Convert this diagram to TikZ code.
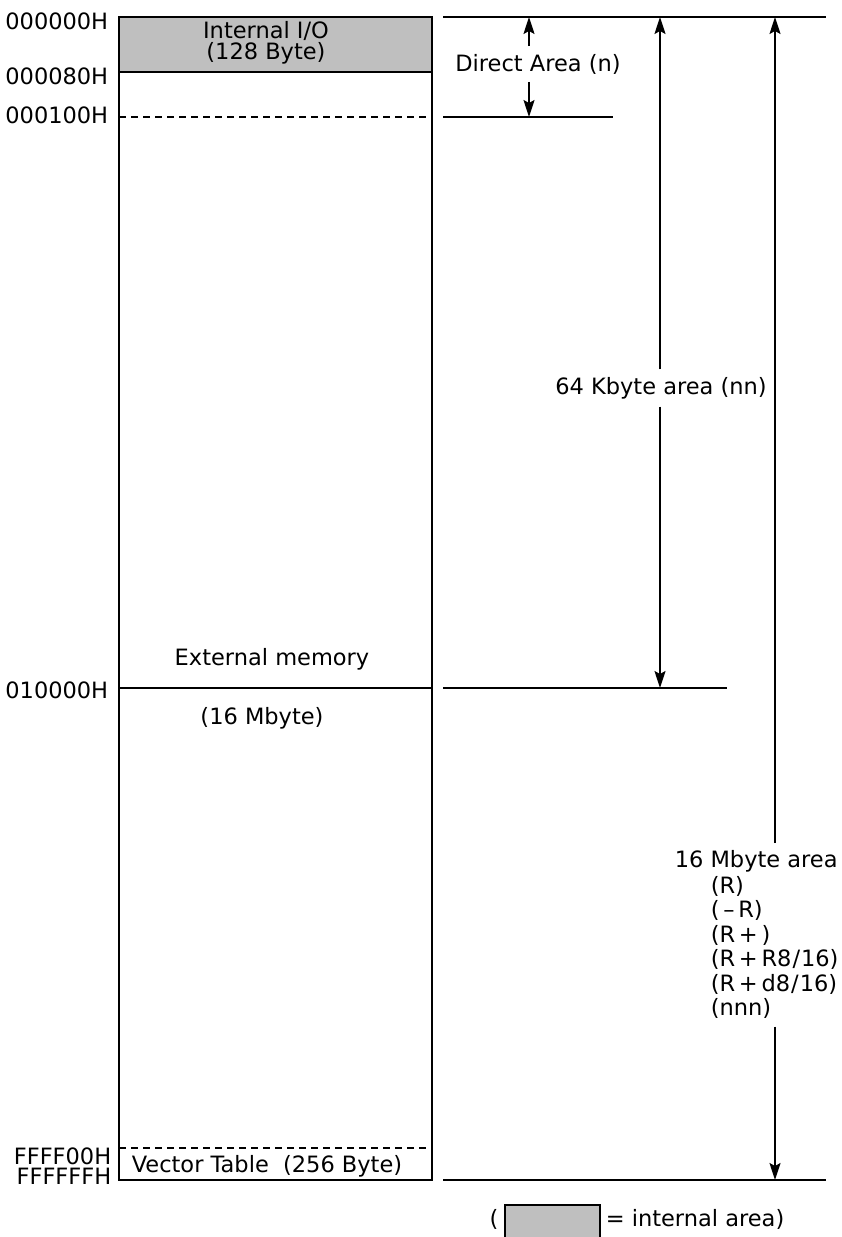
\documentclass[tikz,border=0pt]{standalone}
\usepackage{fontspec}
\setmainfont{DejaVu Sans}
\usetikzlibrary{positioning,arrows.meta,calc}

\begin{document}
\begin{tikzpicture}[x=1pt,y=-1pt,line width=1.6pt,
  every node/.style={font=\fontsize{22.5}{26}\selectfont,inner sep=0pt},
  arr/.style={-{Stealth[length=17pt,width=11pt,inset=3pt]}},
  brk/.style={dash pattern=on 7pt off 5pt,line width=1.3pt},
  addr/.style={anchor=east},
  label/.style={inner sep=7pt},
  inarea/.style={fill=black!25}]
  \useasboundingbox (0,0) rectangle (842,1237);
  % memory map box
  \fill[inarea] (119,17) rectangle (432,72);
  \draw (119,17) rectangle (432,1180);
  \draw (119,72) -- (432,72);
  \draw[brk] (119,117) -- (432,117);
  \draw (119,688) -- (432,688);
  \draw[brk] (119,1148) -- (432,1148);
  \node (io) at (266,31) {Internal I/O};
  \node (iosz) at (266,53) {(128 Byte)};
  \node (ext) at (272,659) {External memory};
  \node (extsz) at (262,718) {(16 Mbyte)};
  \node (vec) at (267,1166) {Vector Table\ \ (256 Byte)};
  % addresses
  \node[addr] (a0) at (109,21) {000000H};
  \node[addr] (a80) at (109,76) {000080H};
  \node[addr] (a100) at (109,115) {000100H};
  \node[addr] (a10k) at (109,690) {010000H};
  \node[addr] (aff0) at (112,1156) {FFFF00H};
  \node[addr] (afff) at (112,1176) {FFFFFFH};
  % reference lines
  \coordinate (r0) at (443,17);   \coordinate (r0e) at (826,17);
  \coordinate (r1) at (443,117);  \coordinate (r1e) at (613,117);
  \coordinate (r2) at (443,688);  \coordinate (r2e) at (727,688);
  \coordinate (r3) at (443,1180); \coordinate (r3e) at (826,1180);
  \draw (r0) -- (r0e);
  \draw (r1) -- (r1e);
  \draw (r2) -- (r2e);
  \draw (r3) -- (r3e);
  % direct area
  \node[label] (dir) at (538,64) {Direct Area (n)};
  \draw[arr] (dir.north -| 529,0) -- (529,17);
  \draw[arr] (dir.south -| 529,0) -- (529,117);
  % 64 Kbyte area
  \node[label] (k64) at (661,388) {64 Kbyte area (nn)};
  \draw[arr] (k64.north -| 660,0) -- (660,17);
  \draw[arr] (k64.south -| 660,0) -- (660,688);
  % 16 Mbyte area
  \node[label,anchor=north west,align=left,
        font=\fontsize{22.5}{24.5}\selectfont] (m16) at (667,843)
    {16 Mbyte area\\[1pt]
     \hspace*{36pt}(R)\\
     \hspace*{36pt}(\,--\,R)\\
     \hspace*{36pt}(R\,+\,)\\
     \hspace*{36pt}(R\,+\,R8\hspace{1pt}/\hspace{1pt}16)\\
     \hspace*{36pt}(R\,+\,d8\hspace{1pt}/\hspace{1pt}16)\\
     \hspace*{36pt}(nnn)};
  \draw[arr] (m16.north -| 775,0) -- (775,17);
  \draw[arr] (m16.south -| 775,0) -- (775,1180);
  % legend
  \node (lpar) at (494,1219) {(};
  \fill[inarea] (505,1205) rectangle (600,1240);
  \draw (505,1240) |- (600,1205) -- (600,1240);
  \node[anchor=west] (leg) at (605,1219) {= internal area)};
\end{tikzpicture}
\end{document}
